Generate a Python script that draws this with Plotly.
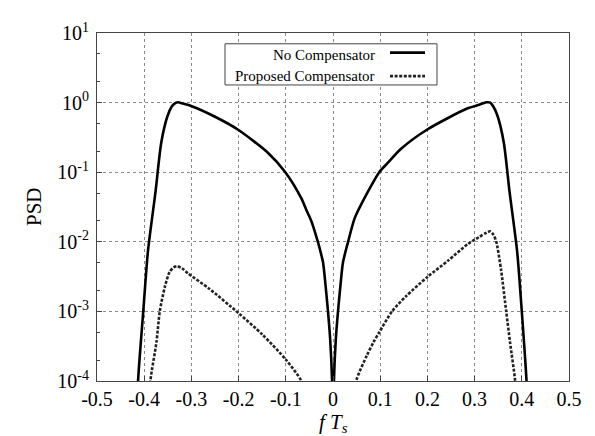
import plotly.graph_objects as go

# ---- data ----
# No Compensator: frequency (fT_s) and PSD
nc_f = [-0.418, -0.413, -0.402, -0.392, -0.376, -0.364, -0.351, -0.342, -0.335, -0.328,
        -0.320, -0.302, -0.251, -0.201, -0.138, -0.101, -0.067, -0.056, -0.046, -0.032,
        -0.028, -0.021, -0.0176, -0.0106, -0.006, -0.002, 0.0,
        0.002, 0.006, 0.0106, 0.0176, 0.021, 0.028, 0.032, 0.046, 0.074, 0.098, 0.117,
        0.143, 0.199, 0.284, 0.310, 0.325, 0.333, 0.340, 0.349, 0.362, 0.374, 0.390,
        0.400, 0.410, 0.415]
nc_psd = [1e-5, 1e-4, 1e-3, 10**-2.13, 10**-1.28, 10**-0.58, 10**-0.20, 10**-0.06, 10**-0.01, 1.01,
          10**-0.01, 10**-0.046, 10**-0.20, 10**-0.39, 10**-0.72, 0.1, 10**-1.376, 10**-1.55, 10**-1.70, 10**-2.0,
          10**-2.1, 10**-2.3, 10**-2.5, 10**-3.0, 10**-3.4, 1e-4, 1e-6,
          1e-4, 10**-3.4, 10**-3.0, 10**-2.5, 10**-2.3, 10**-2.1, 10**-2.0, 10**-1.66, 10**-1.28, 0.1, 10**-0.86,
          10**-0.67, 10**-0.39, 10**-0.085, 10**-0.03, 1.01, 1.0, 10**-0.06, 10**-0.20, 10**-0.58, 10**-1.28, 10**-2.13,
          1e-3, 1e-4, 1e-5]

# Proposed Compensator
pc_f = [-0.392, -0.387, -0.374, -0.367, -0.356, -0.346, -0.338, -0.330, -0.320, -0.307,
        -0.263, -0.201, -0.150, -0.099, -0.067, -0.055,
        0.040, 0.049, 0.072, 0.086, 0.098, 0.125, 0.155, 0.201, 0.244, 0.286,
        0.310, 0.325, 0.333, 0.340, 0.346, 0.356, 0.367, 0.375, 0.386, 0.392]
pc_psd = [10**-4.5, 1e-4, 10**-3.44, 1e-3, 10**-2.64, 10**-2.43, 10**-2.37, 10**-2.35, 10**-2.38, 10**-2.455,
          10**-2.67, 10**-3.02, 10**-3.33, 10**-3.70, 1e-4, 10**-4.3,
          10**-4.5, 1e-4, 10**-3.63, 10**-3.44, 10**-3.30, 1e-3, 10**-2.78, 10**-2.50, 10**-2.27, 10**-2.03,
          10**-1.93, 10**-1.87, 10**-1.85, 10**-1.9, 10**-2.0, 10**-2.4, 10**-3.0, 10**-3.44, 1e-4, 10**-4.5]

x_ticks = [-0.5, -0.4, -0.3, -0.2, -0.1, 0, 0.1, 0.2, 0.3, 0.4, 0.5]
x_labels = ["-0.5", "-0.4", "-0.3", "-0.2", "-0.1", "0", "0.1", "0.2", "0.3", "0.4", "0.5"]
y_ticks = [1e-4, 1e-3, 1e-2, 1e-1, 1e0, 1e1]
y_labels = ["10<sup>-4</sup>", "10<sup>-3</sup>", "10<sup>-2</sup>",
            "10<sup>-1</sup>", "10<sup>0</sup>", "10<sup>1</sup>"]
y_minor = [m * 10.0 ** k for k in range(-4, 1) for m in (2, 5)]
series_names = ["No Compensator", "Proposed Compensator"]

FONT = "Liberation Serif, Times New Roman, serif"

fig = go.Figure()
fig.add_trace(go.Scatter(x=nc_f, y=nc_psd, mode="lines", name=series_names[0],
                         line=dict(color="black", width=2.6, shape="spline", smoothing=0.7),
                         showlegend=False))
fig.add_trace(go.Scatter(x=pc_f, y=pc_psd, mode="lines", name=series_names[1],
                         line=dict(color="#222222", width=2.6, dash="3px,1.6px", shape="spline", smoothing=0.7),
                         showlegend=False))

# plot area: x 89..561 px, y 18..373 px
L, R, T, B = 89, 561, 18, 373
W, H = R - L, B - T
def px(x):
    return (x - L) / W
def py(y):
    return (B - y) / H

shapes = [
    dict(type="rect", xref="paper", yref="paper", x0=px(217), x1=px(429), y0=py(71), y1=py(29),
         fillcolor="white", line=dict(color="#444444", width=1), layer="above"),
    dict(type="line", xref="paper", yref="paper", x0=px(382), x1=px(417), y0=py(38), y1=py(38),
         line=dict(color="black", width=2.6), layer="above"),
    dict(type="line", xref="paper", yref="paper", x0=px(382), x1=px(417), y0=py(62), y1=py(62),
         line=dict(color="#222222", width=2.6, dash="3px,1.6px"), layer="above"),
]
annotations = [
    dict(text=series_names[0], xref="paper", yref="paper", x=px(369), y=py(40),
         xanchor="right", yanchor="middle", showarrow=False, font=dict(size=15, color="black", family=FONT)),
    dict(text=series_names[1], xref="paper", yref="paper", x=px(369), y=py(62),
         xanchor="right", yanchor="middle", showarrow=False, font=dict(size=15, color="black", family=FONT)),
    dict(text="PSD", xref="paper", yref="paper", x=px(26), y=0.5, textangle=-90,
         xanchor="center", yanchor="middle", showarrow=False, font=dict(size=21, color="black", family=FONT)),
    dict(text="<i>f T<sub>s</sub></i>", xref="paper", yref="paper", x=0.5, y=py(416),
         xanchor="center", yanchor="middle", showarrow=False, font=dict(size=21, color="black", family=FONT)),
]

fig.update_layout(
    width=595, height=436,
    margin=dict(l=L, r=595 - R, t=T, b=436 - B),
    paper_bgcolor="white", plot_bgcolor="white",
    font=dict(family=FONT, size=20, color="black"),
    shapes=shapes, annotations=annotations,
    xaxis=dict(range=[-0.5, 0.5], tickvals=x_ticks, ticktext=x_labels,
               showgrid=True, gridcolor="#8a8a8a", griddash="dot", gridwidth=1,
               zeroline=False, showline=True, linecolor="#444444", linewidth=1.2, mirror=True,
               ticks="inside", ticklen=5, tickcolor="#444444",
               tickfont=dict(size=20, family=FONT)),
    yaxis=dict(type="log", range=[-4, 1], tickvals=y_ticks, ticktext=y_labels,
               showgrid=True, gridcolor="#8a8a8a", griddash="dot", gridwidth=1,
               zeroline=False, showline=True, linecolor="#444444", linewidth=1.2, mirror=True,
               ticks="inside", ticklen=5, tickcolor="#444444", ticklabelstandoff=3,
               tickfont=dict(size=20, family=FONT),
               minor=dict(tickvals=y_minor, ticks="inside", ticklen=3, tickcolor="#444444", showgrid=False)),
)

fig.write_html("out.html")
